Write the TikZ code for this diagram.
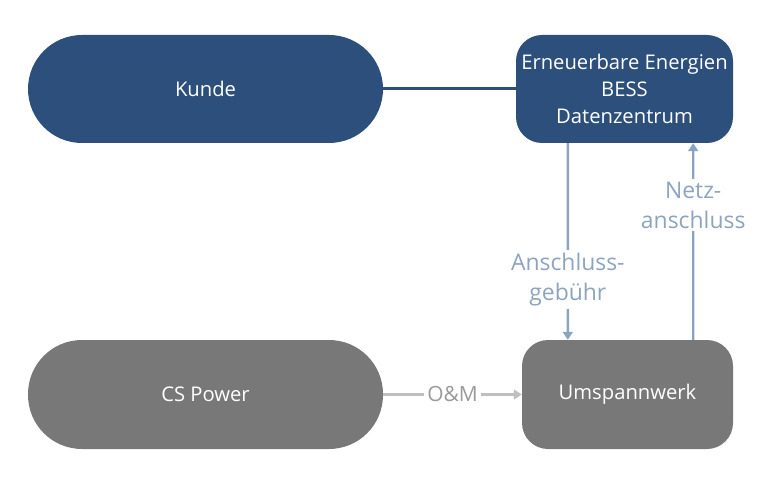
\documentclass[tikz,border=0pt]{standalone}
\usepackage{fontspec}
\setmainfont{Open Sans}
\newfontfamily\labelfont{Open Sans}
\usetikzlibrary{arrows.meta,positioning}
\definecolor{kundeblau}{HTML}{2C4F7B}
\definecolor{csgrau}{HTML}{787878}
\definecolor{pfeilblau}{HTML}{8DA4C0}
\definecolor{pfeilgrau}{HTML}{BFBFBF}
\definecolor{textgrau}{HTML}{9A9A9A}
\tikzset{
  box/.style={rounded corners=26bp,minimum height=108bp,text=white,align=center,
    font=\fontsize{20.3}{27}\selectfont,inner sep=0pt},
  pill/.style={box,rounded corners=54bp,minimum width=355bp},
  flow/.style={pfeilblau,line width=2.4bp,-{Triangle[width=10bp,length=8bp]}},
  flowlabel/.style={fill=white,text=pfeilblau,align=center,inner sep=3bp,
    font=\labelfont\fontsize{23}{30}\selectfont},
}
\begin{document}
\begin{tikzpicture}[x=1bp,y=-1bp]
\useasboundingbox (0,0) rectangle (768,488);
% obere Reihe
\node[pill,fill=kundeblau] (kunde) at (205.5,89) {Kunde};
\node[box,fill=kundeblau,minimum width=217bp] (anlage) at (624.5,89)
  {Erneuerbare Energien\\BESS\\Datenzentrum};
% untere Reihe
\node[pill,fill=csgrau,minimum height=109bp] (cspower) at (205.5,394.5) {CS Power};
\node[box,fill=csgrau,minimum width=211bp,minimum height=109bp] (umspannwerk) at (627.5,394.5) {Umspannwerk};
% Verbindungen
\draw[kundeblau,line width=3bp] (kunde.east) -- (anlage.west);
\draw[flow] ([xshift=52bp]anlage.south west) -- ([xshift=46bp]umspannwerk.north west)
  node[flowlabel,pos=0.695]{Anschluss-\\gebühr};
\draw[flow] ([xshift=-40bp]umspannwerk.north east) -- ([xshift=-40bp]anlage.south east)
  node[flowlabel,pos=0.685]{Netz-\\anschluss};
\draw[flow,pfeilgrau] (cspower.east) -- (umspannwerk.west)
  node[flowlabel,pos=0.5,text=textgrau,font=\labelfont\fontsize{21}{30}\selectfont]{O\&M};
\end{tikzpicture}
\end{document}
